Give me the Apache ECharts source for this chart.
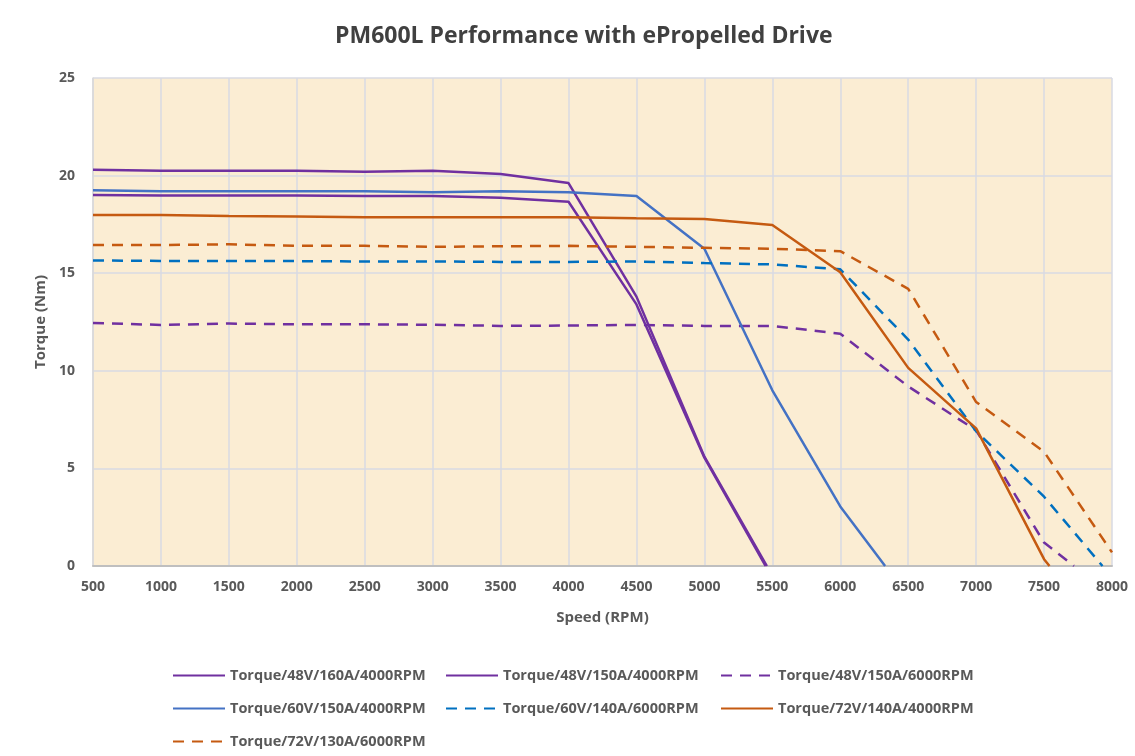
<!DOCTYPE html>
<html>
<head>
<meta charset="utf-8">
<title>PM600L Performance</title>
<script src="https://cdn.jsdelivr.net/npm/echarts@6/dist/echarts.min.js"></script>
<style>
  html, body { margin: 0; padding: 0; background: #fff; }
  #chart { width: 1135px; height: 756px; }
</style>
</head>
<body>
<div id="chart"></div>
<script>
// series names (legend order)
const names = [
  'Torque/48V/160A/4000RPM',
  'Torque/48V/150A/4000RPM',
  'Torque/48V/150A/6000RPM',
  'Torque/60V/150A/4000RPM',
  'Torque/60V/140A/6000RPM',
  'Torque/72V/140A/4000RPM',
  'Torque/72V/130A/6000RPM'
];

// [speed RPM, torque Nm]
const t48v160a = [[500, 20.3], [1000, 20.25], [1500, 20.25], [2000, 20.25], [2500, 20.2], [3000, 20.25], [3500, 20.08], [4000, 19.62], [4500, 13.8], [5000, 5.6], [5460, 0]];
const t48v150a = [[500, 19.0], [1000, 18.98], [1500, 18.98], [2000, 18.98], [2500, 18.96], [3000, 18.95], [3500, 18.87], [4000, 18.66], [4500, 13.4], [5000, 5.55], [5450, 0]];
const t48v150a6k = [[500, 12.45], [1000, 12.35], [1500, 12.42], [2000, 12.38], [2500, 12.38], [3000, 12.36], [3500, 12.3], [4000, 12.32], [4500, 12.35], [5000, 12.3], [5500, 12.3], [6000, 11.9], [6500, 9.2], [7000, 6.95], [7500, 1.2], [7720, 0]];
const t60v150a = [[500, 19.25], [1000, 19.2], [1500, 19.2], [2000, 19.2], [2500, 19.2], [3000, 19.15], [3500, 19.2], [4000, 19.15], [4500, 18.95], [5000, 16.25], [5500, 9.0], [6000, 3.05], [6330, 0]];
const t60v140a6k = [[500, 15.65], [1000, 15.63], [1500, 15.62], [2000, 15.62], [2500, 15.6], [3000, 15.6], [3500, 15.58], [4000, 15.58], [4500, 15.6], [5000, 15.52], [5500, 15.45], [6000, 15.2], [6500, 11.6], [7000, 6.9], [7500, 3.55], [7930, 0]];
const t72v140a = [[500, 17.98], [1000, 17.98], [1500, 17.93], [2000, 17.9], [2500, 17.87], [3000, 17.87], [3500, 17.87], [4000, 17.87], [4500, 17.82], [5000, 17.78], [5500, 17.47], [6000, 15.05], [6500, 10.15], [7000, 7.05], [7500, 0.35], [7540, 0]];
const t72v130a6k = [[500, 16.44], [1000, 16.44], [1500, 16.48], [2000, 16.4], [2500, 16.4], [3000, 16.35], [3500, 16.38], [4000, 16.4], [4500, 16.35], [5000, 16.3], [5500, 16.25], [6000, 16.13], [6500, 14.2], [7000, 8.4], [7500, 5.85], [8000, 0.7]];

const seriesData = [t48v160a, t48v150a, t48v150a6k, t60v150a, t60v140a6k, t72v140a, t72v130a6k];
const colors = ['#7030a0', '#7030a0', '#7030a0', '#4472c4', '#0070c0', '#c55a11', '#c55a11'];
const dashed = [false, false, true, false, true, false, true];

// legend layout: 3 per row
const legendPos = [[167, 663], [440, 663], [715, 663], [167, 696], [440, 696], [715, 696], [167, 729]];

const myChart = echarts.init(document.getElementById('chart'));

const textColor = '#595959';
const font = 'Open Sans';

const option = {
  backgroundColor: '#fff',
  animation: false,
  title: {
    text: 'PM600L Performance with ePropelled Drive',
    left: 330,
    top: 20,
    textStyle: { fontFamily: font, fontSize: 23, fontWeight: 'bold', color: '#404040' }
  },
  legend: names.map((n, i) => ({
    data: [n],
    left: legendPos[i][0],
    top: legendPos[i][1],
    itemWidth: 52,
    itemHeight: 14,
    itemGap: 4,
    itemStyle: { opacity: 0 },
    textStyle: { fontFamily: font, fontSize: 14.5, fontWeight: 'bold', color: textColor }
  })),
  grid: {
    left: 93,
    right: 23,
    top: 78,
    bottom: 190,
    show: true,
    backgroundColor: '#fbedd3',
    borderWidth: 0
  },
  xAxis: {
    type: 'value',
    min: 500,
    max: 8000,
    interval: 500,
    name: 'Speed (RPM)',
    nameLocation: 'middle',
    nameGap: 44,
    nameTextStyle: { fontFamily: font, fontSize: 15, fontWeight: 'bold', color: textColor },
    axisLine: { show: true, lineStyle: { color: '#bfbfbf', width: 2 } },
    axisTick: { show: false },
    axisLabel: { fontFamily: font, fontSize: 14, fontWeight: 'bold', color: textColor, margin: 14, formatter: v => String(v) },
    splitLine: { show: true, lineStyle: { color: '#d9dae3', width: 1.5 } }
  },
  yAxis: {
    type: 'value',
    min: 0,
    max: 25,
    interval: 5,
    name: 'Torque (Nm)',
    nameLocation: 'middle',
    nameGap: 45,
    nameTextStyle: { fontFamily: font, fontSize: 15, fontWeight: 'bold', color: textColor },
    axisLine: { show: true, lineStyle: { color: '#d9d9d9', width: 1.5 } },
    axisTick: { show: false },
    axisLabel: { fontFamily: font, fontSize: 14, fontWeight: 'bold', color: textColor, margin: 18 },
    splitLine: { show: true, lineStyle: { color: '#d9dae3', width: 1.5 } }
  },
  series: names.map((n, i) => ({
    name: n,
    type: 'line',
    data: seriesData[i],
    symbol: 'none',
    color: colors[i],
    lineStyle: {
      color: colors[i],
      width: 2.5,
      type: dashed[i] ? [11, 8] : 'solid'
    }
  }))
};

myChart.setOption(option);
</script>
</body>
</html>
